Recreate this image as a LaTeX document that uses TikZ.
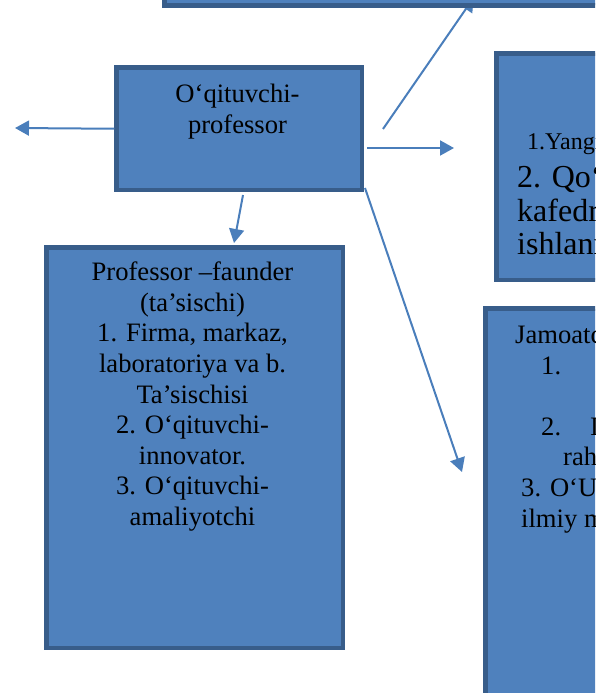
\documentclass[tikz,border=0pt]{standalone}
\usepackage{fontspec}
\setmainfont{Liberation Serif}
\usepackage{tikz}
\usetikzlibrary{arrows.meta,positioning}
\definecolor{boxfill}{HTML}{4F81BD}
\definecolor{boxline}{HTML}{385D8A}
\definecolor{arrowline}{HTML}{4A7EBB}

\begin{document}
\begin{tikzpicture}[x=1pt,y=-1pt,
  box/.style={draw=boxline,fill=boxfill,line width=4.5pt,inner sep=0pt,anchor=north west},
  txt/.style={inner sep=0pt,align=center,font=\fontsize{26.6}{30.6}\selectfont},
  arr/.style={draw=arrowline,line width=2pt,-{Triangle[length=14pt,width=15pt]}}]
\useasboundingbox (0,0) rectangle (595,693);
\clip (0,0) rectangle (595,693);

\coordinate (upfrom) at (383,129);
\coordinate (upto) at (473.8,-2.5);
\draw[arr] (upfrom) -- (upto);

\node[box,anchor=south west,minimum width=600pt,minimum height=100pt] (topbox) at (162.25,7.75) {};
\node[box,minimum width=245.5pt,minimum height=122.5pt] (teacher) at (114.25,65.25) {};
\node[box,minimum width=296.5pt,minimum height=400.5pt] (founder) at (44.25,245.25) {};
\node[box,minimum width=200pt,minimum height=226.5pt] (devbox) at (494.25,51.25) {};
\node[box,minimum width=200pt,minimum height=500pt] (publicbox) at (483.25,306.25) {};

\node[txt,anchor=north] (teachertxt) at (237.5,83.8) {O‘qituvchi-\\professor};
\node[txt,anchor=north] (foundertxt) at (192.5,261.8) {Professor –faunder\\(ta’sischi)\\1. Firma, markaz,\\laboratoriya va b.\\Ta’sischisi\\2. O‘qituvchi-\\innovator.\\3. O‘qituvchi-\\amaliyotchi};
\node[txt,anchor=base west,font=\fontsize{24}{28}\selectfont] (devone) at (527,149) {1.Yangi};
\node[txt,anchor=north west,align=left,font=\fontsize{32}{33.5}\selectfont] (devtwo) at (517,165.1) {2. Qo‘shma\\kafedra\\ishlanma};
\node[txt,anchor=north west,align=left] (publictxt) at (515,324.8) {Jamoatchilik\\\hspace*{26pt}1.\\~\\\hspace*{26pt}2.\hspace*{29pt}Ilmiy\\\hspace*{48pt}rahbar\\\hspace*{6pt}3. O‘UMU\\\hspace*{6pt}ilmiy maslahat};

\coordinate (lefttip) at (15,128);
\coordinate (rstart) at (367,148);
\coordinate (rend) at (454,148);
\coordinate (dstart) at (243,195);
\coordinate (dend) at (234,243);
\coordinate (gstart) at (365,188);
\coordinate (gend) at (462,472);
\draw[arr] (teacher.west) -- (lefttip);
\draw[arr] (rstart) -- (rend);
\draw[arr] (dstart) -- (dend);
\draw[arr] (gstart) -- (gend);
\end{tikzpicture}
\end{document}
